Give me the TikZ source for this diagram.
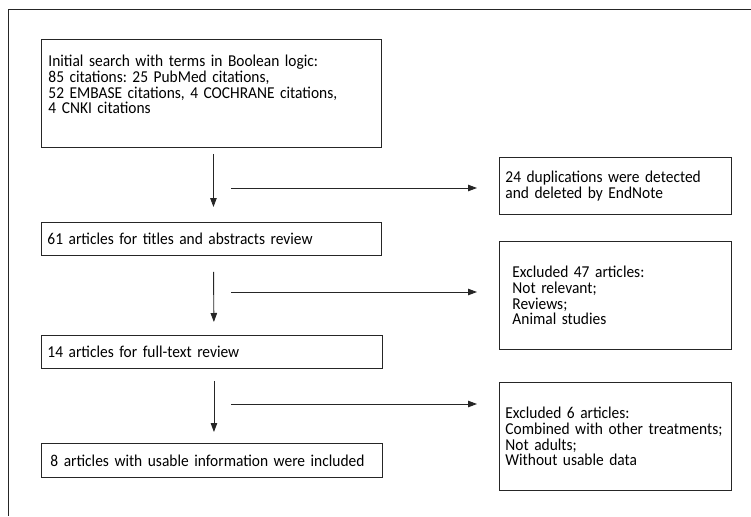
\documentclass[tikz,border=0pt]{standalone}
\usepackage{fontspec}
\setmainfont[FakeStretch=0.93,WordSpace=0.75]{Carlito}
\usetikzlibrary{arrows.meta}
\begin{document}
\frenchspacing
\begin{tikzpicture}[x=1pt,y=-1pt,
  box/.style={draw=black!85, line width=0.9pt, anchor=north west, align=left,
    inner xsep=6pt, inner ysep=0pt, font=\fontsize{16.6}{15.7}\selectfont},
  arr/.style={draw=black!85, line width=0.9pt, -{Stealth[length=9pt,width=6.5pt,inset=0pt]}},
  frame/.style={draw=black!85, line width=0.8pt}]
\useasboundingbox (0,0) rectangle (751,516);
\draw[frame] (751,9) -- (8,9) -- (8,516);
% left column
\node[box, minimum width=340pt, minimum height=108pt, text width=328pt, text depth=65pt] (b1) at (41,39)
 {\hspace*{1pt}Initial search with terms in Boolean logic:\\\hspace*{1pt}85 citations: 25 PubMed citations,\\\hspace*{1pt}52 EMBASE citations, 4 COCHRANE citations,\\\hspace*{1pt}4 CNKI citations};
\node[box, minimum width=340pt, minimum height=33pt, text width=328pt] (b3) at (41,222)
 {61 articles for titles and abstracts review};
\node[box, minimum width=341pt, minimum height=33pt, text width=329pt] (b5) at (41,335)
 {14 articles for full-text review};
\node[box, minimum width=341pt, minimum height=34pt, text width=329pt] (b7) at (41,443)
 {\hspace*{3pt}8 articles with usable information were included};
% right column
\node[box, minimum width=232pt, minimum height=57pt, text width=220pt] (b2) at (499,157)
 {24 duplications were detected\\and deleted by EndNote};
\node[box, minimum width=232pt, minimum height=108pt, text width=220pt] (b4) at (499,241)
 {\hspace*{7pt}Excluded 47 articles:\\\hspace*{7pt}Not relevant;\\\hspace*{7pt}Reviews;\\\hspace*{7pt}Animal studies};
\node[box, minimum width=232pt, minimum height=108pt, text width=220pt] (b6) at (499,382)
 {Excluded 6 articles:\\\mbox{Combined with other treatments;}\\Not adults;\\Without usable data};
% vertical arrows
\draw[arr, shorten <=6pt, shorten >=15pt] ([xshift=2pt]b1.south) -- ([xshift=2pt]b3.north);
\draw[arr, shorten <=16pt, shorten >=13pt] ([xshift=2pt]b3.south) -- ([xshift=2pt]b5.north);
\draw[arr, shorten <=12pt, shorten >=11pt] ([xshift=2pt]b5.south) -- ([xshift=2pt]b7.north);
% horizontal arrows
\coordinate (h1) at (231,188);
\coordinate (h2) at (231,292);
\coordinate (h3) at (231,404);
\draw[arr, shorten >=22pt] (h1) -- (h1 -| b2.west);
\draw[arr, shorten >=22pt] (h2) -- (h2 -| b4.west);
\draw[arr, shorten >=22pt] (h3) -- (h3 -| b6.west);
\end{tikzpicture}
\end{document}
